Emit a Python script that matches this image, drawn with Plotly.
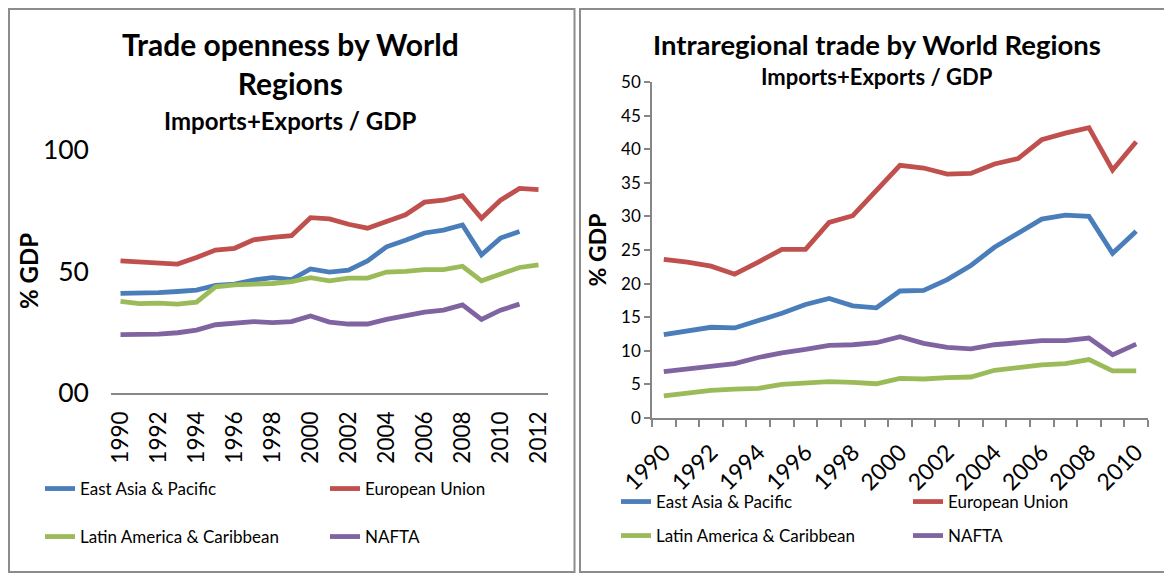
import plotly.graph_objects as go

# page body has an 8px margin, so figure is 8px smaller and all pixel positions are shifted
OFF = 8
W, H = 1172 - OFF, 574 - OFF
FONT = "Lato"

# ---------------- data ----------------
series_names = ["East Asia & Pacific", "European Union", "Latin America & Caribbean", "NAFTA"]
series_colors = ["#4A7EBB", "#C0504D", "#9BBB59", "#8064A2"]

years_left = list(range(1990, 2013))
eap_left = [40.9, 40.9, 41.2, 41.7, 42.3, 44.2, 44.7, 46.4, 47.4, 46.6, 51.0, 49.7, 50.5, 54.3,
            60.1, 62.8, 65.8, 67.0, 69.1, 56.8, 63.7, 66.4, None]
eu_left = [54.3, 54.0, 53.5, 53.0, 55.7, 58.8, 59.5, 63.0, 64.0, 64.7, 72.1, 71.6, 69.4, 67.8,
           70.5, 73.3, 78.5, 79.3, 81.2, 71.9, 79.3, 84.2, 83.7]
lac_left = [37.6, 36.7, 36.9, 36.5, 37.3, 43.6, 44.4, 44.7, 45.0, 45.8, 47.4, 46.1, 47.2, 47.2,
            49.7, 50.0, 50.7, 50.7, 52.1, 46.1, 49.1, 51.6, 52.7]
nafta_left = [23.9, 23.9, 24.1, 24.7, 25.8, 28.0, 28.5, 29.3, 28.9, 29.3, 31.6, 29.1, 28.3, 28.3,
              30.2, 31.6, 33.2, 34.0, 36.2, 30.2, 34.0, 36.5, None]

years_right = list(range(1990, 2011))
eap_right = [12.4, 13.0, 13.5, 13.4, 14.5, 15.6, 16.9, 17.8, 16.7, 16.4, 18.9, 19.0, 20.6, 22.7,
             25.4, 27.6, 29.6, 30.2, 30.0, 24.5, 27.8]
eu_right = [23.6, 23.2, 22.6, 21.4, 23.2, 25.1, 25.1, 29.1, 30.1, 33.9, 37.6, 37.2, 36.3, 36.4,
            37.8, 38.6, 41.4, 42.4, 43.2, 36.9, 41.1]
lac_right = [3.3, 3.7, 4.1, 4.3, 4.4, 5.0, 5.2, 5.4, 5.3, 5.1, 5.9, 5.8, 6.0, 6.1,
             7.1, 7.5, 7.9, 8.1, 8.7, 7.0, 7.0]
nafta_right = [6.9, 7.3, 7.6, 8.1, 9.0, 9.7, 10.2, 10.8, 10.9, 11.2, 12.1, 11.1, 10.5, 10.3,
               10.9, 11.2, 11.5, 11.5, 11.9, 9.4, 11.0]

left_ticks = [0, 50, 100]
left_ticktext = ["00", "50", "100"]
left_xticks = list(range(1990, 2013, 2))
right_xticks = list(range(1990, 2011, 2))

left_title = "Trade openness by World<br>Regions"
right_title = "Intraregional trade by World Regions"
subtitle = "Imports+Exports / GDP"
ytitle = "% GDP"

# ---------------- helpers (screen pixel -> paper) ----------------
def px_x(x):
    return (x - OFF) / W

def px_y(y):
    return 1 - (y - OFF) / H

fig = go.Figure()

left_data = [eap_left, eu_left, lac_left, nafta_left]
right_data = [eap_right, eu_right, lac_right, nafta_right]
legend_left = ["legend", "legend", "legend2", "legend2"]
legend_right = ["legend3", "legend3", "legend4", "legend4"]

for name, col, ys, lg in zip(series_names, series_colors, left_data, legend_left):
    fig.add_trace(go.Scatter(x=years_left, y=ys, mode="lines", name=name,
                             line=dict(color=col, width=4.8), xaxis="x", yaxis="y",
                             legend=lg, connectgaps=False))
for name, col, ys, lg in zip(series_names, series_colors, right_data, legend_right):
    fig.add_trace(go.Scatter(x=years_right, y=ys, mode="lines", name=name,
                             line=dict(color=col, width=4.8), xaxis="x2", yaxis="y2",
                             legend=lg))

axis_gray = "#868686"

fig.update_layout(
    template="none",
    width=W, height=H,
    margin=dict(l=0, r=0, t=0, b=0, autoexpand=False),
    paper_bgcolor="white", plot_bgcolor="white",
    font=dict(family=FONT, color="black"),
    xaxis=dict(domain=[px_x(111), px_x(548)], range=[1989.5, 2012.5], automargin=False,
               tickvals=left_xticks, tickangle=-90, showgrid=False, zeroline=False,
               showline=True, linecolor=axis_gray, linewidth=1.5, ticks="",
               ticklabelstandoff=8,
               tickfont=dict(size=22.5, family=FONT), anchor="y"),
    yaxis=dict(domain=[px_y(392.7), px_y(150)], range=[0, 100], automargin=False,
               tickvals=left_ticks, ticktext=left_ticktext, showgrid=False, zeroline=False,
               showline=False, ticks="", tickfont=dict(size=26.5, family=FONT),
               ticklabelstandoff=21, anchor="x"),
    xaxis2=dict(domain=[px_x(652), px_x(1148)], range=[1989.5, 2010.5], automargin=False,
                tickvals=right_xticks, tickangle=-45, showgrid=False, zeroline=False,
                showline=True, linecolor=axis_gray, linewidth=1.5, ticks="",
                ticklabelstandoff=10,
                minor=dict(tick0=1989.5, dtick=1, ticks="outside", ticklen=7,
                           tickcolor=axis_gray, tickwidth=1.5, showgrid=False),
                tickfont=dict(size=23, family=FONT), anchor="y2"),
    yaxis2=dict(domain=[px_y(418), px_y(82)], range=[0, 50], dtick=5, automargin=False,
                showgrid=False, zeroline=False, showline=True, linecolor=axis_gray,
                linewidth=1.5, ticks="outside", ticklen=6, tickcolor=axis_gray, tickwidth=1.5,
                tickfont=dict(size=17, family=FONT), anchor="x2",
                title=dict(text="<b>" + ytitle + "</b>", font=dict(size=23, family=FONT), standoff=8)),
    showlegend=True,
)

leg_common = dict(orientation="h", bgcolor="rgba(0,0,0,0)", font=dict(size=17, family=FONT),
                  entrywidthmode="pixels", xanchor="left", yanchor="middle",
                  traceorder="normal")
fig.update_layout(
    legend=dict(x=px_x(40), y=px_y(489), entrywidth=240, **leg_common),
    legend2=dict(x=px_x(40), y=px_y(537), entrywidth=240, **leg_common),
    legend3=dict(x=px_x(616), y=px_y(502), entrywidth=247, **leg_common),
    legend4=dict(x=px_x(616), y=px_y(536), entrywidth=247, **leg_common),
)

# panel borders (left/top edges clamped to the visible figure area)
for x0, x1 in [(9, 574.5), (580, 1173)]:
    fig.add_shape(type="rect", xref="paper", yref="paper",
                  x0=px_x(x0), x1=px_x(x1), y0=px_y(572), y1=px_y(9),
                  line=dict(color="#8C8C8C", width=2), fillcolor="rgba(0,0,0,0)", layer="below")

# left y-axis title
fig.add_annotation(text="<b>" + ytitle + "</b>", xref="paper", yref="paper",
                   x=px_x(28), y=px_y(271), xanchor="center", yanchor="middle", textangle=-90,
                   showarrow=False, font=dict(size=24, family=FONT))

# titles
fig.add_annotation(text="<b>" + left_title + "</b>", xref="paper", yref="paper",
                   x=px_x(290), y=px_y(63), xanchor="center", yanchor="middle",
                   showarrow=False, font=dict(size=30, family=FONT))
fig.add_annotation(text="<b>" + subtitle + "</b>", xref="paper", yref="paper",
                   x=px_x(290), y=px_y(121), xanchor="center", yanchor="middle",
                   showarrow=False, font=dict(size=24, family=FONT))
fig.add_annotation(text="<b>" + right_title + "</b>", xref="paper", yref="paper",
                   x=px_x(877), y=px_y(44), xanchor="center", yanchor="middle",
                   showarrow=False, font=dict(size=27.5, family=FONT))
fig.add_annotation(text="<b>" + subtitle + "</b>", xref="paper", yref="paper",
                   x=px_x(877), y=px_y(77), xanchor="center", yanchor="middle",
                   showarrow=False, font=dict(size=22, family=FONT))

fig.write_html("out.html")
